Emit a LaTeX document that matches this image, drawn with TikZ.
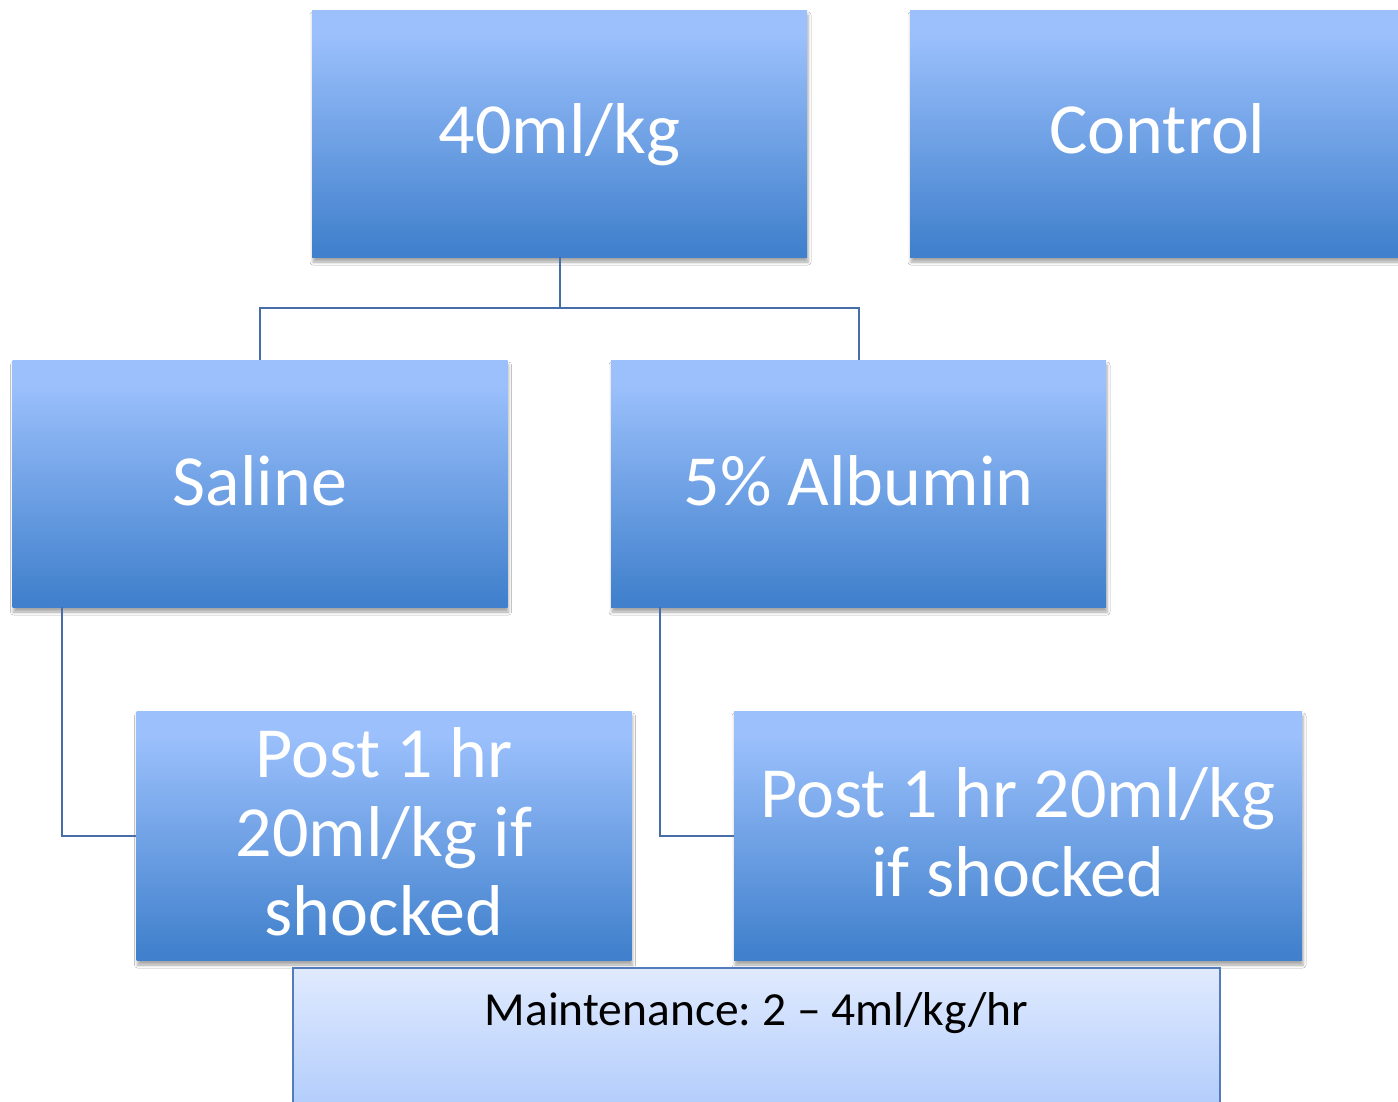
\documentclass[tikz,border=0pt]{standalone}
\usepackage{fontspec}
\setmainfont{Carlito}
\frenchspacing
\usetikzlibrary{shadows.blur}
\definecolor{boxtop}{RGB}{155,192,252}
\definecolor{boxbot}{RGB}{64,128,204}
\definecolor{linecol}{RGB}{72,110,168}
\definecolor{mtop}{RGB}{224,234,253}
\definecolor{mbot}{RGB}{168,198,252}
\definecolor{mborder}{RGB}{84,124,188}
\pgfdeclareverticalshading{boxshade}{100bp}{color(0bp)=(boxbot); color(26bp)=(boxbot); color(70bp)=(boxtop); color(100bp)=(boxtop)}
\pgfdeclareverticalshading{mshade}{100bp}{color(0bp)=(mbot); color(25bp)=(mbot); color(75bp)=(mtop); color(100bp)=(mtop)}
\tikzset{
  bx/.style={rectangle, shading=boxshade, minimum width=495, minimum height=247, inner sep=0pt,
    blur shadow={shadow xshift=1pt, shadow yshift=-5pt, shadow blur radius=3pt, shadow opacity=35}},
  big/.style={anchor=base, align=center, inner sep=0pt, text=white, font=\fontsize{72}{79}\selectfont},
  small/.style={anchor=base, inner sep=0pt, text=black, font=\fontsize{47.5}{55}\selectfont},
  conn/.style={draw=linecol, line width=2pt},
}
\begin{document}
\begin{tikzpicture}[x=1pt,y=-1pt]
\useasboundingbox (0,0) rectangle (1398,1101);
\fill[white] (0,0) rectangle (1398,1101);
\clip (0,0) rectangle (1398,1101);

\node[bx] (n40) at (559.5,133.5) {};
\node[bx] (ctrl) at (1157.5,133.5) {};
\node[bx] (sal) at (260,483.5) {};
\node[bx] (alb) at (858.5,483.5) {};
\node[bx, minimum height=249] (postL) at (384,835.5) {};
\node[bx, minimum width=568, minimum height=249] (postR) at (1018,835.5) {};
\node[rectangle, shading=mshade, draw=mborder, line width=2pt, minimum width=927, minimum height=170, inner sep=0pt] (maint) at (756.5,1053) {};

\node[big] (t40) at (559.5,153) {40ml/kg};
\node[big] (tctrl) at (1157.5,153) {Control};
\node[big] (tsal) at (260,505) {Saline};
\node[big] (talb) at (858.5,505) {5\% Albumin};
\node[big] (tpl) at (384,935) {Post 1 hr\\20ml/kg if\\shocked};
\node[big] (tpr) at (1018,896) {Post 1 hr 20ml/kg\\if shocked};
\node[small] (tm) at (756.5,1025) {Maintenance: 2 – 4ml/kg/hr};

\coordinate (j) at (559.5,308);
\draw[conn] (n40.south) -- (j) -| (sal.north);
\draw[conn] (j) -| (alb.north);
\draw[conn] ([xshift=50pt]sal.south west) |- (postL.west);
\draw[conn] ([xshift=49pt]alb.south west) |- (postR.west);
\end{tikzpicture}
\end{document}
